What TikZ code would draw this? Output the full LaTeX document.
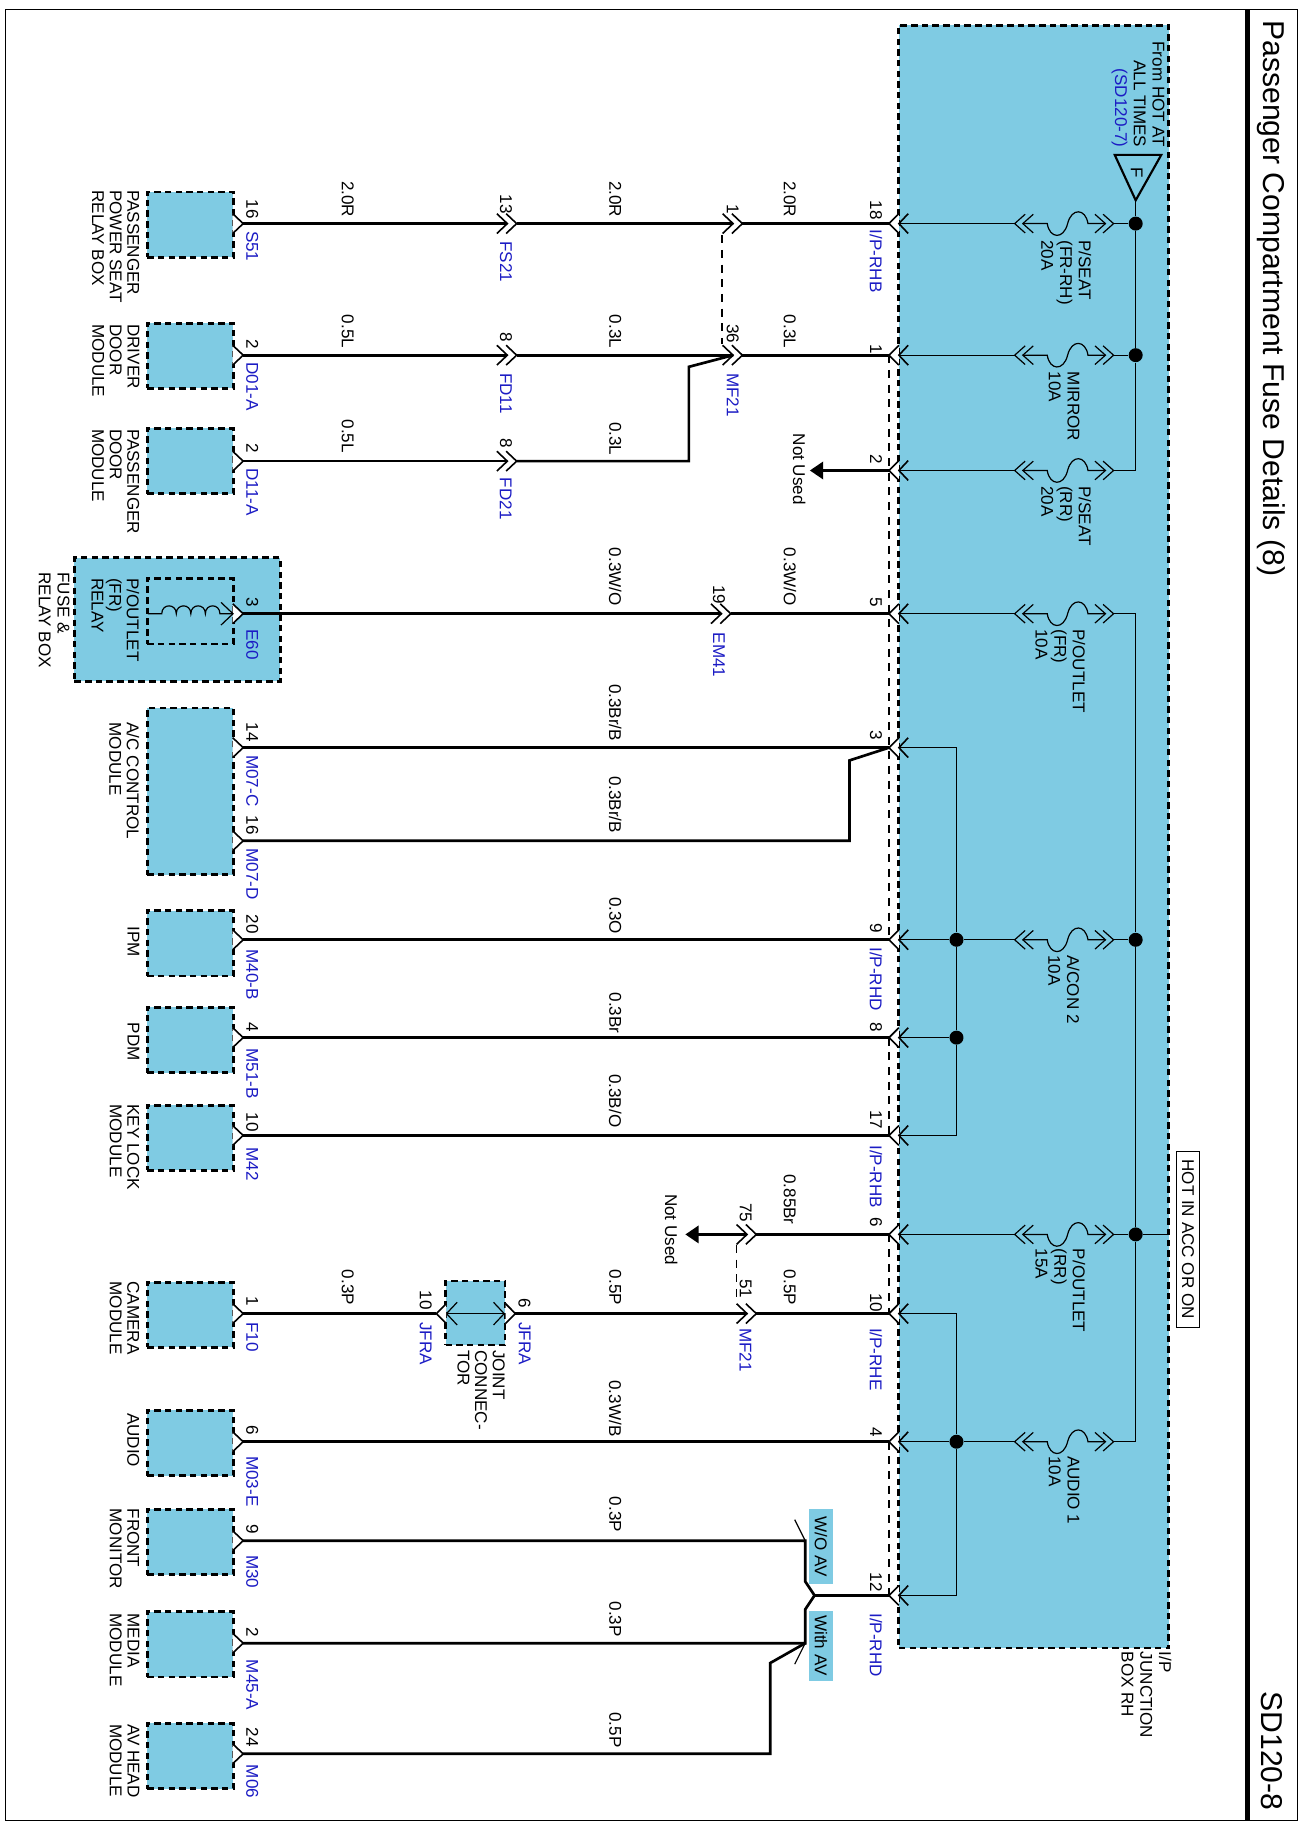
\documentclass[tikz,border=0pt]{standalone}
\usepackage{fontspec}
\setmainfont{Liberation Sans}
\usetikzlibrary{arrows.meta}
\definecolor{boxblue}{HTML}{7FCBE3}
\definecolor{codeblue}{HTML}{1C1CC4}
\tikzset{every picture/.style={line width=0.75pt}}
\tikzset{
  unit/.style={draw=black,fill=boxblue,line width=2.1pt,dash pattern=on 4.8pt off 3.2pt,inner sep=0pt,minimum width=64.6pt,minimum height=49pt},
  wire/.style={line width=2pt,line join=miter},
  fine/.style={line width=0.9pt},
  tie/.style={line width=0.9pt,dash pattern=on 6pt off 5pt},
  tag/.style={xshift=0.7pt,rotate=-90,anchor=west,inner sep=0pt,font=\fontsize{12.8}{14}\selectfont},
  code/.style={tag,text=codeblue},
  block/.style={xshift=1pt,rotate=-90,anchor=north west,align=left,inner sep=0pt,font=\fontsize{12.8}{13.2}\selectfont},
  wideblock/.style={block,font=\fontsize{12.8}{14}\selectfont},
  hit/.style={circle,fill=black,inner sep=0pt,minimum size=10.5pt},
  lost/.style={wire,-{Triangle[length=10pt,width=13pt]}},
  unitpin/.pic={
    \filldraw[fill=white,line width=1.2pt] (-9,-8.5) -- (0,0) -- (-9,8.5);
    \coordinate (-tip) at (0,0);
  },
  boxpin/.pic={
    \filldraw[fill=white,line width=1.2pt] (8.5,-8.5) -- (0,0) -- (8.5,8.5);
    \draw[line width=1.2pt] (16.5,-8.5) -- (8.5,0) -- (16.5,8.5);
    \coordinate (-out) at (0,0);
    \coordinate (-in) at (8.5,0);
  },
  splice/.pic={
    \draw[line width=1.2pt] (-9,-8.5) -- (0,0) -- (-9,8.5);
    \draw[line width=1.2pt] (-1,-8.5) -- (8,0) -- (-1,8.5);
    \coordinate (-in) at (0,0);
    \coordinate (-out) at (8,0);
  },
  fuse/.pic={
    \draw[fine] (-19,-8) -- (-28,0) -- (-19,8);
    \draw[fine] (-12,-8) -- (-21,0) -- (-12,8);
    \draw[fine] (-21,0) -- (0,0) .. controls (2,-13) and (14,-14) .. (17.5,0) .. controls (21,14) and (33,13) .. (35,0) -- (50,0);
    \draw[fine] (41,-8) -- (50,0) -- (41,8);
    \draw[fine] (48,-8) -- (57,0) -- (48,8);
    \coordinate (-in) at (-28,0);
    \coordinate (-out) at (57,0);
  }
}

\begin{document}
\begin{tikzpicture}[x=0.8727pt,y=0.8734pt,yscale=-1,xscale=1]
\useasboundingbox (0,0) rectangle (1125,1568);

%Frame
\draw (5,8) rectangle (1115,1563);
\draw [line width=3.2pt] (1072,8) -- (1072,1563);
\node [tag,font=\fontsize{22.6}{25}\selectfont] (title) at (1092,17) {Passenger Compartment Fuse Details (8)};
\node [tag,font=\fontsize{22.6}{25}\selectfont] (sheet) at (1092,1452) {SD120-8};

%Junction box
\node [unit,minimum width=202.5pt,minimum height=1217pt] (jbox) at (888.5,718.5) {};
\node [wideblock] (jboxname) at (1006,1418) {I/P\\JUNCTION\\BOX RH};

%Source
\coordinate (fTop) at (976,172);
\draw [line width=1.6pt] (958,133) -- (998,133) -- (fTop) -- cycle;
\node [tag,anchor=center] (fmark) at (976,148) {F};
\node [wideblock,align=right,anchor=north east] (source) at (1000,127) {From HOT AT\\ALL TIMES\\\textcolor{codeblue}{(SD120-7)}};

%Fuses
\pic (fA) at (900,192) {fuse};
\pic (fB) at (900,305) {fuse};
\pic (fC) at (900,404) {fuse};
\pic (fD) at (900,527) {fuse};
\pic (fE) at (900,807) {fuse};
\pic (fF) at (900,1060) {fuse};
\pic (fG) at (900,1238) {fuse};
\node [wideblock] (fAname) at (937,206) {P/SEAT\\(FR-RH)\\20A};
\node [wideblock] (fBname) at (927,319) {MIRROR\\10A};
\node [wideblock] (fCname) at (937,417) {P/SEAT\\(RR)\\20A};
\node [wideblock] (fDname) at (932,540) {P/OUTLET\\(FR)\\10A};
\node [wideblock] (fEname) at (927,820) {A/CON 2\\10A};
\node [wideblock] (fFname) at (932,1072) {P/OUTLET\\(RR)\\15A};
\node [wideblock] (fGname) at (927,1250) {AUDIO 1\\10A};

%Bus bars
\node [hit] (busA) at (976,192) {};
\node [hit] (busB) at (976,305) {};
\node [hit] (busE) at (976,807) {};
\node [hit] (busF) at (976,1060) {};
\coordinate (busC) at (976,404);
\coordinate (busD) at (976,527);
\coordinate (busG) at (976,1238);
\coordinate (hotEnd) at (1004,1060);
\draw [fine] (fTop) -- (busA) -- (busB) -- (busC) -- (fC-out);
\draw [fine] (fA-out) -- (busA);
\draw [fine] (fB-out) -- (busB);
\draw [fine] (fD-out) -- (busD) -- (busE) -- (busF) -- (busG) -- (fG-out);
\draw [fine] (fE-out) -- (busE);
\draw [fine] (fF-out) -- (busF);
\draw [fine] (busF) -- (hotEnd);
\node [draw,rotate=-90,inner sep=0pt,minimum width=132pt,minimum height=17.5pt,font=\fontsize{12.8}{14}\selectfont] (hot) at (1021,1064) {HOT IN ACC OR ON};

%Box pins
\pic (p18) at (764,192) {boxpin};
\pic (p1) at (764,305) {boxpin};
\pic (p2) at (764,404) {boxpin};
\pic (p5) at (764,527) {boxpin};
\pic (p3) at (764,642) {boxpin};
\pic (p9) at (764,807) {boxpin};
\pic (p8) at (764,891) {boxpin};
\pic (p17) at (764,975) {boxpin};
\pic (p6) at (764,1060) {boxpin};
\pic (p10) at (764,1128) {boxpin};
\pic (p4) at (764,1238) {boxpin};
\pic (p12) at (764,1370) {boxpin};
\draw [fine] (p18-in) -- (fA-in);
\draw [fine] (p1-in) -- (fB-in);
\draw [fine] (p2-in) -- (fC-in);
\draw [fine] (p5-in) -- (fD-in);
\draw [fine] (p6-in) -- (fF-in);

%Inner distribution
\node [hit] (dE) at (822,807) {};
\node [hit] (dH) at (822,891) {};
\node [hit] (dG) at (822,1238) {};
\coordinate (dTop) at (822,642);
\coordinate (dLow) at (822,975);
\coordinate (eTop) at (822,1128);
\coordinate (eLow) at (822,1370);
\draw [fine] (p3-in) -- (dTop) -- (dE) -- (dH) -- (dLow) -- (p17-in);
\draw [fine] (p9-in) -- (dE) -- (fE-in);
\draw [fine] (p8-in) -- (dH);
\draw [fine] (p10-in) -- (eTop) -- (dG) -- (eLow) -- (p12-in);
\draw [fine] (p4-in) -- (dG) -- (fG-in);

%Pin ties
\draw [tie] (p1-out) -- (p2-out) -- (p5-out) -- (p3-out) -- (p9-out);
\draw [tie] (p8-out) -- (p17-out);
\draw [tie] (p6-out) -- (p10-out);
\draw [tie] (p4-out) -- (p12-out);

%Units
\node [unit] (uS51) at (163.5,193) {};
\node [unit] (uD01) at (163.5,305.5) {};
\node [unit] (uD11) at (163.5,396) {};
\node [unit,minimum width=154.5pt,minimum height=92.6pt] (uRelayBox) at (152.5,532) {};
\node [unit] (uE60) at (163.5,525) {};
\node [unit,minimum height=125pt] (uM07) at (163.5,679.5) {};
\node [unit] (uM40) at (163.5,810) {};
\node [unit] (uM51) at (163.5,893) {};
\node [unit] (uM42) at (163.5,977) {};
\node [unit] (uF10) at (163.5,1129) {};
\node [unit] (uM03) at (163.5,1239) {};
\node [unit] (uM30) at (163.5,1324) {};
\node [unit] (uM45) at (163.5,1412) {};
\node [unit] (uM06) at (163.5,1508) {};
\node [unit,minimum width=44.5pt,minimum height=48pt] (uJoint) at (408.5,1127.5) {};

\node [block] (nS51) at (119,163) {PASSENGER\\POWER SEAT\\RELAY BOX};
\node [block] (nD01) at (119,278) {DRIVER\\DOOR\\MODULE};
\node [block] (nD11) at (119,368) {PASSENGER\\DOOR\\MODULE};
\node [block] (nE60) at (119,496) {P/OUTLET\\(FR)\\RELAY};
\node [wideblock] (nRelayBox) at (59,491) {FUSE \&\\RELAY BOX};
\node [block] (nM07) at (119,620) {A/C CONTROL\\MODULE};
\node [block] (nM40) at (119,795) {IPM};
\node [block] (nM51) at (119,878) {PDM};
\node [block] (nM42) at (119,948) {KEY LOCK\\MODULE};
\node [block] (nF10) at (119,1100) {CAMERA\\MODULE};
\node [block] (nM03) at (119,1213) {AUDIO};
\node [block] (nM30) at (119,1295) {FRONT\\MONITOR};
\node [block] (nM45) at (119,1385) {MEDIA\\MODULE};
\node [block] (nM06) at (119,1480) {AV HEAD\\MODULE};
\node [block] (nJoint) at (433,1159) {JOINT\\CONNEC-\\TOR};

%Unit pins
\pic (qS51) at (209,192) {unitpin};
\pic (qD01) at (209,305) {unitpin};
\pic (qD11) at (209,396) {unitpin};
\pic (qE60) at (209,527) {unitpin};
\pic (qM07C) at (209,642) {unitpin};
\pic (qM07D) at (209,722) {unitpin};
\pic (qM40) at (209,807) {unitpin};
\pic (qM51) at (209,891) {unitpin};
\pic (qM42) at (209,975) {unitpin};
\pic (qF10) at (209,1128) {unitpin};
\pic (qM03) at (209,1238) {unitpin};
\pic (qM30) at (209,1323) {unitpin};
\pic (qM45) at (209,1411) {unitpin};
\pic (qM06) at (209,1506) {unitpin};

%Coil
\coordinate (coilA) at (127,527);
\coordinate (coilB) at (201,527);
\draw [fine,-{Straight Barb[length=9pt,width=17pt]}] (coilA) -- (139,527) .. controls (139,518) and (151.5,518) .. (151.5,527) .. controls (151.5,518) and (164,518) .. (164,527) .. controls (164,518) and (176.5,518) .. (176.5,527) .. controls (176.5,518) and (189,518) .. (189,527) -- (coilB);

%Joint connector
\coordinate (jL) at (383,1128);
\coordinate (jR) at (434,1128);
\draw [fine,{Straight Barb[length=8pt,width=17pt]}-{Straight Barb[length=8pt,width=17pt]}] (jL) -- (jR);
\coordinate (jLtip) at (375,1128);
\coordinate (jRtip) at (443,1128);
\filldraw [fill=white,line width=1.2pt] (383.5,1119.5) -- (jLtip) -- (383.5,1136.5);
\filldraw [fill=white,line width=1.2pt] (434.5,1119.5) -- (jRtip) -- (434.5,1136.5);

%Splices
\pic (sFS21) at (436,192) {splice};
\pic (sFD11) at (436,305) {splice};
\pic (sFD21) at (436,396) {splice};
\pic (sMF1) at (630,192) {splice};
\pic (sMF36) at (630,305) {splice};
\pic (sEM41) at (620,527) {splice};
\pic (sMF75) at (642,1060) {splice};
\pic (sMF51) at (642,1128) {splice};
\coordinate (tieA) at (620.5,202);
\coordinate (tieB) at (620.5,295);
\coordinate (tieC) at (633,1069);
\coordinate (tieD) at (633,1118);
\draw [tie] (tieA) -- (tieB);
\draw [tie] (tieC) -- (tieD);

%Wires
\draw [wire] (qS51-tip) -- (sFS21-in);
\draw [wire] (sFS21-out) -- (sMF1-in);
\draw [wire] (sMF1-out) -- (p18-out);
\draw [wire] (qD01-tip) -- (sFD11-in);
\draw [wire] (sFD11-out) -- (sMF36-in);
\draw [wire] (sMF36-out) -- (p1-out);
\draw [wire] (qD11-tip) -- (sFD21-in);
\coordinate (kneeA) at (592,396);
\coordinate (kneeB) at (592,315);
\draw [wire] (sFD21-out) -- (kneeA) -- (kneeB) -- (sMF36-in);
\coordinate (lostA) at (696,404);
\draw [lost] (p2-out) -- (lostA);
\draw [wire] (qE60-tip) -- (sEM41-in);
\draw [wire] (sEM41-out) -- (p5-out);
\draw [wire] (qM07C-tip) -- (p3-out);
\coordinate (kneeC) at (730,722);
\coordinate (kneeD) at (730,653);
\draw [wire] (qM07D-tip) -- (kneeC) -- (kneeD) -- (p3-out);
\draw [wire] (qM40-tip) -- (p9-out);
\draw [wire] (qM51-tip) -- (p8-out);
\draw [wire] (qM42-tip) -- (p17-out);
\draw [wire] (sMF75-out) -- (p6-out);
\coordinate (lostB) at (589,1060);
\draw [lost] (sMF75-in) -- (lostB);
\draw [wire] (qF10-tip) -- (jLtip);
\draw [wire] (jRtip) -- (sMF51-in);
\draw [wire] (sMF51-out) -- (p10-out);
\draw [wire] (qM03-tip) -- (p4-out);
\coordinate (swTop) at (692,1323);
\coordinate (swBot) at (692,1411);
\coordinate (swTick) at (683,1305);
\coordinate (swTock) at (683,1429);
\coordinate (swJoin) at (700,1370);
\coordinate (swUp) at (692,1358);
\coordinate (swDn) at (692,1382);
\draw [wire] (qM30-tip) -- (swTop) -- (swUp) -- (swJoin) -- (p12-out);
\draw [wire] (qM45-tip) -- (swBot) -- (swDn) -- (swJoin);
\draw [fine] (swTop) -- (swTick);
\draw [fine] (swBot) -- (swTock);
\coordinate (kneeE) at (662,1506);
\coordinate (kneeF) at (662,1428);
\draw [wire] (qM06-tip) -- (kneeE) -- (kneeF) -- (swBot);

%Option flags
\node [fill=boxblue,rotate=-90,inner sep=0pt,minimum width=56pt,minimum height=18.5pt,font=\fontsize{12.8}{14}\selectfont] (flagA) at (705.5,1328) {W/O AV};
\node [fill=boxblue,rotate=-90,inner sep=0pt,minimum width=52.5pt,minimum height=18.5pt,font=\fontsize{12.8}{14}\selectfont] (flagB) at (705.5,1413) {With AV};

%Pin numbers
\node [tag] (l18) at (752,172) {18};
\node [tag] (l1) at (752,295) {1};
\node [tag] (l2) at (752,390) {2};
\node [tag] (l5) at (752,513) {5};
\node [tag] (l3) at (752,627) {3};
\node [tag] (l9) at (752,793) {9};
\node [tag] (l8) at (752,878) {8};
\node [tag] (l17) at (752,953) {17};
\node [tag] (l6) at (752,1045) {6};
\node [tag] (l10) at (752,1110) {10};
\node [tag] (l4) at (752,1225) {4};
\node [tag] (l12) at (752,1350) {12};
\node [tag] (l1b) at (629,175) {1};
\node [tag] (l36) at (629,278) {36};
\node [tag] (l19) at (617,502) {19};
\node [tag] (l75) at (640,1033) {75};
\node [tag] (l51) at (640,1098) {51};
\node [tag] (l13) at (434,167) {13};
\node [tag] (l8a) at (434,285) {8};
\node [tag] (l8b) at (434,376) {8};
\node [tag] (l16) at (216,171) {16};
\node [tag] (l2a) at (216,291) {2};
\node [tag] (l2b) at (216,380) {2};
\node [tag] (l3b) at (216,513) {3};
\node [tag] (l14) at (216,620) {14};
\node [tag] (l16b) at (216,700) {16};
\node [tag] (l20) at (216,785) {20};
\node [tag] (l4b) at (216,878) {4};
\node [tag] (l10b) at (216,955) {10};
\node [tag] (l1c) at (216,1113) {1};
\node [tag] (l6b) at (216,1224) {6};
\node [tag] (l9b) at (216,1309) {9};
\node [tag] (l2c) at (216,1397) {2};
\node [tag] (l24) at (216,1483) {24};
\node [tag] (l10c) at (365,1108) {10};
\node [tag] (l6c) at (450,1115) {6};

%Connector codes
\node [code] (cRHB) at (752,197) {I/P-RHB};
\node [code] (cRHD) at (752,813) {I/P-RHD};
\node [code] (cRHBb) at (752,983) {I/P-RHB};
\node [code] (cRHE) at (752,1140) {I/P-RHE};
\node [code] (cRHDb) at (752,1385) {I/P-RHD};
\node [code] (cMF21) at (629,320) {MF21};
\node [code] (cEM41) at (617,543) {EM41};
\node [code] (cMF21b) at (640,1140) {MF21};
\node [code] (cFS21) at (434,207) {FS21};
\node [code] (cFD11) at (434,320) {FD11};
\node [code] (cFD21) at (434,410) {FD21};
\node [code] (cJFRA) at (450,1135) {JFRA};
\node [code] (cJFRAb) at (365,1135) {JFRA};
\node [code] (cS51) at (216,198) {S51};
\node [code] (cD01) at (216,311) {D01-A};
\node [code] (cD11) at (216,402) {D11-A};
\node [code] (cE60) at (216,540) {E60};
\node [code] (cM07C) at (216,648) {M07-C};
\node [code] (cM07D) at (216,728) {M07-D};
\node [code] (cM40) at (216,815) {M40-B};
\node [code] (cM51) at (216,900) {M51-B};
\node [code] (cM42) at (216,985) {M42};
\node [code] (cF10) at (216,1135) {F10};
\node [code] (cM03) at (216,1250) {M03-E};
\node [code] (cM30) at (216,1335) {M30};
\node [code] (cM45) at (216,1425) {M45-A};
\node [code] (cM06) at (216,1515) {M06};

%Wire sizes
\node [tag] (wA1) at (678,155) {2.0R};
\node [tag] (wA2) at (528,155) {2.0R};
\node [tag] (wA3) at (298,155) {2.0R};
\node [tag] (wB1) at (678,270) {0.3L};
\node [tag] (wB2) at (528,270) {0.3L};
\node [tag] (wB3) at (298,270) {0.5L};
\node [tag] (wC2) at (528,362) {0.3L};
\node [tag] (wC3) at (298,360) {0.5L};
\node [tag] (wD1) at (678,470) {0.3W/O};
\node [tag] (wD2) at (528,470) {0.3W/O};
\node [tag] (wE) at (528,587) {0.3Br/B};
\node [tag] (wF) at (528,666) {0.3Br/B};
\node [tag] (wG) at (528,770) {0.3O};
\node [tag] (wH) at (528,852) {0.3Br};
\node [tag] (wI) at (528,922) {0.3B/O};
\node [tag] (wJ) at (678,1008) {0.85Br};
\node [tag] (wK1) at (678,1090) {0.5P};
\node [tag] (wK2) at (528,1090) {0.5P};
\node [tag] (wK3) at (298,1090) {0.3P};
\node [tag] (wL) at (528,1185) {0.3W/B};
\node [tag] (wM) at (528,1285) {0.3P};
\node [tag] (wN) at (528,1375) {0.3P};
\node [tag] (wO) at (528,1470) {0.5P};

\node [tag] (unusedA) at (686,372) {Not Used};
\node [tag] (unusedB) at (576,1025) {Not Used};

\end{tikzpicture}
\end{document}
